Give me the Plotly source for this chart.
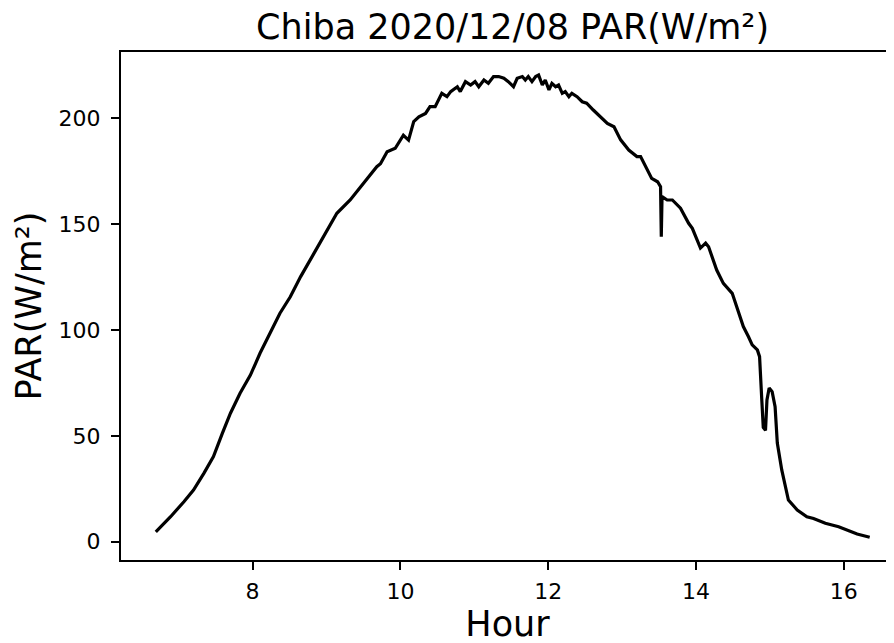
import plotly.graph_objects as go

# Hour of day (decimal) and PAR (W/m²)
hours = [
    6.69, 6.89, 7.07, 7.20, 7.34, 7.47, 7.59, 7.70, 7.83, 7.97, 8.10, 8.24, 8.37, 8.51, 8.65,
    8.83, 9.01, 9.14, 9.32, 9.50, 9.68,
    9.73, 9.82, 9.93, 9.98, 10.04, 10.11, 10.18, 10.25, 10.34, 10.40, 10.47, 10.56, 10.63,
    10.68, 10.77, 10.81, 10.88, 10.95, 11.01, 11.06, 11.13, 11.19, 11.26, 11.33, 11.40,
    11.46, 11.53, 11.58, 11.65, 11.69, 11.73, 11.78, 11.83, 11.87, 11.92, 11.96, 12.01,
    12.05, 12.10, 12.14, 12.19, 12.23, 12.28, 12.32, 12.39, 12.46, 12.52, 12.61, 12.71,
    12.80, 12.89, 12.98, 13.09, 13.20, 13.25, 13.31, 13.40, 13.48, 13.52, 13.53, 13.54,
    13.61, 13.68, 13.79, 13.90, 13.95, 14.06, 14.13, 14.17, 14.28, 14.37, 14.49, 14.55,
    14.64, 14.71, 14.76, 14.83, 14.86, 14.89, 14.91, 14.94, 14.96, 14.99, 15.03, 15.07,
    15.10, 15.16, 15.25, 15.37, 15.50, 15.59, 15.75, 15.93, 16.04, 16.18, 16.35,
]
par = [
    4.7, 11.8, 18.9, 24.4, 32.3, 40.2, 51.2, 60.7, 70.1, 78.7, 89.0, 98.4, 107.9, 115.7, 125.2,
    136.2, 147.2, 155.1, 161.4, 169.3, 177.1,
    178.5, 184.2, 185.8, 188.9, 192.0, 189.7, 198.4, 200.7, 202.3, 205.5, 205.5, 211.8, 210.2,
    212.6, 214.9, 212.6, 217.3, 215.7, 217.3, 214.9, 218.1, 216.5, 219.7, 219.7, 218.9,
    217.3, 214.9, 218.9, 219.7, 218.1, 219.7, 217.3, 219.7, 220.4, 215.7, 218.1, 213.4,
    216.5, 214.9, 215.7, 211.8, 212.6, 210.2, 211.8, 210.2, 207.8, 207.1, 203.9, 200.7,
    197.6, 196.0, 189.8, 185.0, 181.9, 181.9, 178.0, 171.6, 170.0, 167.7, 144.0, 163.0,
    161.4, 161.4, 157.5, 150.4, 148.0, 138.7, 141.0, 139.3, 128.3, 122.0, 117.3, 111.0,
    101.6, 96.8, 93.0, 90.6, 87.4, 67.0, 54.0, 52.6, 67.0, 72.6, 70.9, 63.8,
    46.6, 33.9, 19.7, 15.0, 11.8, 11.0, 8.7, 7.1, 5.5, 3.6, 2.1,
]

x_ticks = [8, 10, 12, 14, 16]
y_ticks = [0, 50, 100, 150, 200]

FONT = "DejaVu Sans"

fig = go.Figure(
    go.Scatter(
        x=hours, y=par, mode="lines",
        line=dict(color="black", width=3.2),
        showlegend=False,
    )
)

axis_common = dict(
    showgrid=False, zeroline=False,
    showline=True, linecolor="black", linewidth=2,
    ticks="outside", ticklen=8, tickwidth=2, tickcolor="black",
    tickfont=dict(family=FONT, size=22, color="black"),
    title_font=dict(family=FONT, size=35, color="black"),
)

fig.update_layout(
    width=894, height=643,
    margin=dict(l=113, r=8, t=44, b=91),
    paper_bgcolor="white", plot_bgcolor="white",
    title=dict(
        text="Chiba 2020/12/08 PAR(W/m²)",
        font=dict(family=FONT, size=35, color="black"),
        x=0.5644, xref="container", xanchor="center",
        y=1 - 19 / 643, yref="container", yanchor="middle",
        automargin=False,
    ),
    xaxis=dict(
        axis_common,
        range=[6.219, 16.679], tickvals=x_ticks,
        ticktext=[str(t) for t in x_ticks],
        mirror=True, ticklabelstandoff=3,
        title=dict(text="Hour", standoff=8),
    ),
    yaxis=dict(
        axis_common,
        range=[-8.64, 231.3], tickvals=y_ticks,
        ticktext=[str(t) for t in y_ticks],
        mirror=False, ticklabelstandoff=6,
        title=dict(text="PAR(W/m²)", standoff=6),
    ),
)

fig.write_html("out.html")
